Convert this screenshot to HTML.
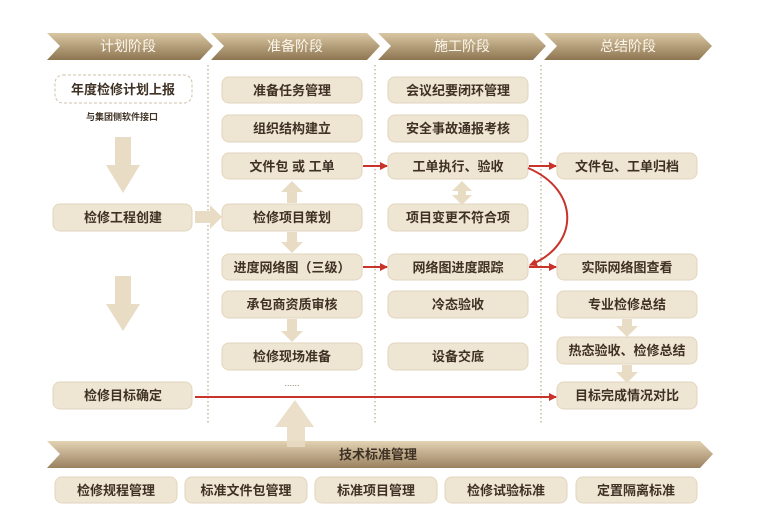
<!DOCTYPE html>
<html><head><meta charset="utf-8"><style>
body{margin:0;background:#fff;}
svg{display:block;}
text{font-family:"Liberation Sans","Noto Sans CJK SC",sans-serif;}
.b{fill:#efe5d3;stroke:#e2d5bd;stroke-width:1;}
.t{font-size:13px;fill:#3f3225;text-anchor:middle;font-weight:bold;}
.h{font-size:14px;fill:#fbf6ec;text-anchor:middle;}
.a{fill:#e9dcc4;}
.d{stroke:#b8a888;stroke-width:1.2;stroke-dasharray:1.5,2.5;}
.r{stroke:#c8332a;stroke-width:2;fill:none;}
</style></head><body>
<svg width="757" height="529" viewBox="0 0 757 529">
<defs>
<linearGradient id="g" x1="0" y1="0" x2="0" y2="1">
<stop offset="0" stop-color="#d9c6a2"/><stop offset="1" stop-color="#8e7552"/></linearGradient>
<linearGradient id="g2" x1="0" y1="0" x2="0" y2="1">
<stop offset="0" stop-color="#e3d3b3"/><stop offset="1" stop-color="#9a8160"/></linearGradient>
<marker id="m" markerWidth="8" markerHeight="8" refX="7" refY="4" orient="auto" markerUnits="userSpaceOnUse"><path d="M0,0 L8,4 L0,8 Z" fill="#c8332a"/></marker>
</defs>
<!-- header chevrons -->
<polygon points="47,33 200,33 213,46 200,60 47,60 60,46" fill="url(#g)"/>
<polygon points="211,33 367,33 380,46 367,60 211,60 224,46" fill="url(#g)"/>
<polygon points="378,33 533,33 546,46 533,60 378,60 391,46" fill="url(#g)"/>
<polygon points="544,33 699,33 712,46 699,60 544,60 557,46" fill="url(#g)"/>
<text class="h" x="128" y="51">计划阶段</text>
<text class="h" x="295" y="51">准备阶段</text>
<text class="h" x="462" y="51">施工阶段</text>
<text class="h" x="628" y="51">总结阶段</text>
<!-- dotted column lines -->
<line class="d" x1="208" y1="65" x2="208" y2="425"/>
<line class="d" x1="375" y1="65" x2="375" y2="425"/>
<line class="d" x1="541" y1="65" x2="541" y2="425"/>
<!-- col1 -->
<rect x="55" y="75" width="137" height="28" rx="8" fill="#fff" stroke="#cfc2aa" stroke-dasharray="3,2"/>
<text class="t" x="123" y="94">年度检修计划上报</text>
<text x="122" y="120" style="font-size:9px;fill:#3f3225;text-anchor:middle;font-weight:bold">与集团侧软件接口</text>
<polygon class="a" points="115,137 131,137 131,165 140,165 123,193 106,165 115,165"/>
<rect class="b" x="53" y="204" width="139" height="27" rx="7"/>
<text class="t" x="123" y="222">检修工程创建</text>
<polygon class="a" points="195,211 210,211 210,205 222,217 210,229 210,223 195,223"/>
<polygon class="a" points="115,276 131,276 131,304 140,304 123,331 106,304 115,304"/>
<rect class="b" x="53" y="382" width="139" height="27" rx="7"/>
<text class="t" x="123" y="400">检修目标确定</text>
<!-- col2 -->
<g>
<rect class="b" x="222" y="77" width="140" height="26" rx="7"/><text class="t" x="292" y="95">准备任务管理</text>
<rect class="b" x="222" y="115" width="140" height="27" rx="7"/><text class="t" x="292" y="133">组织结构建立</text>
<rect class="b" x="222" y="153" width="140" height="26" rx="7"/><text class="t" x="292" y="171">文件包 或 工单</text>
<rect class="b" x="222" y="204" width="140" height="27" rx="7"/><text class="t" x="292" y="222">检修项目策划</text>
<rect class="b" x="222" y="254" width="140" height="26" rx="7"/><text class="t" x="292" y="272">进度网络图（三级）</text>
<rect class="b" x="222" y="291" width="140" height="27" rx="7"/><text class="t" x="292" y="309">承包商资质审核</text>
<rect class="b" x="222" y="343" width="140" height="27" rx="7"/><text class="t" x="292" y="361">检修现场准备</text>
<text x="292" y="386" style="font-size:9px;fill:#8a7a60;text-anchor:middle">......</text>
<polygon class="a" points="292,181 303,192 297,192 297,203 287,203 287,192 281,192"/>
<polygon class="a" points="287,232 297,232 297,242 303,242 292,253 281,242 287,242"/>
<polygon class="a" points="287,319 297,319 297,331 303,331 292,342 281,331 287,331"/>
</g>
<!-- col3 -->
<g>
<rect class="b" x="388" y="77" width="140" height="26" rx="7"/><text class="t" x="458" y="95">会议纪要闭环管理</text>
<rect class="b" x="388" y="115" width="140" height="27" rx="7"/><text class="t" x="458" y="133">安全事故通报考核</text>
<rect class="b" x="388" y="153" width="140" height="26" rx="7"/><text class="t" x="458" y="171">工单执行、验收</text>
<rect class="b" x="388" y="204" width="140" height="27" rx="7"/><text class="t" x="458" y="222">项目变更不符合项</text>
<rect class="b" x="388" y="254" width="140" height="26" rx="7"/><text class="t" x="458" y="272">网络图进度跟踪</text>
<rect class="b" x="388" y="291" width="140" height="27" rx="7"/><text class="t" x="458" y="309">冷态验收</text>
<rect class="b" x="388" y="343" width="140" height="27" rx="7"/><text class="t" x="458" y="361">设备交底</text>
<polygon class="a" points="462,181 472,191 466,191 466,195 472,195 462,205 452,195 458,195 458,191 452,191"/>
</g>
<!-- col4 -->
<g>
<rect class="b" x="557" y="153" width="140" height="26" rx="7"/><text class="t" x="627" y="171">文件包、工单归档</text>
<rect class="b" x="557" y="254" width="140" height="26" rx="7"/><text class="t" x="627" y="272">实际网络图查看</text>
<rect class="b" x="557" y="291" width="140" height="27" rx="7"/><text class="t" x="627" y="309">专业检修总结</text>
<rect class="b" x="557" y="337" width="140" height="27" rx="7"/><text class="t" x="627" y="355">热态验收、检修总结</text>
<rect class="b" x="557" y="382" width="140" height="27" rx="7"/><text class="t" x="627" y="400">目标完成情况对比</text>
<polygon class="a" points="622,319 632,319 632,326 638,326 627,337 616,326 622,326"/>
<polygon class="a" points="622,365 632,365 632,372 638,372 627,383 616,372 622,372"/>
</g>
<!-- red connectors -->
<line class="r" x1="363" y1="166" x2="387" y2="166" marker-end="url(#m)"/>
<line class="r" x1="363" y1="267" x2="387" y2="267" marker-end="url(#m)"/>
<line class="r" x1="529" y1="166" x2="556" y2="166" marker-end="url(#m)"/>
<line class="r" x1="529" y1="267" x2="556" y2="267" marker-end="url(#m)"/>
<path class="r" d="M528,168 C580,190 580,245 530,265" marker-end="url(#m)"/>
<line class="r" x1="195" y1="397" x2="556" y2="397" marker-end="url(#m)"/>
<!-- bottom band -->
<polygon points="47,441 700,441 713,454 700,468 47,468 60,454" fill="url(#g2)"/>
<polygon class="a" points="295,400 314,427 305,427 305,447 287,447 287,427 275,427" opacity="0.9"/>
<text x="378" y="459" style="font-size:13px;fill:#3f3225;text-anchor:middle;font-weight:bold">技术标准管理</text>
<rect class="b" x="55" y="477" width="122" height="26" rx="7"/><text class="t" x="116" y="495">检修规程管理</text>
<rect class="b" x="185" y="477" width="122" height="26" rx="7"/><text class="t" x="246" y="495">标准文件包管理</text>
<rect class="b" x="315" y="477" width="122" height="26" rx="7"/><text class="t" x="376" y="495">标准项目管理</text>
<rect class="b" x="445" y="477" width="122" height="26" rx="7"/><text class="t" x="506" y="495">检修试验标准</text>
<rect class="b" x="576" y="477" width="121" height="26" rx="7"/><text class="t" x="636" y="495">定置隔离标准</text>
</svg>
</body></html>
